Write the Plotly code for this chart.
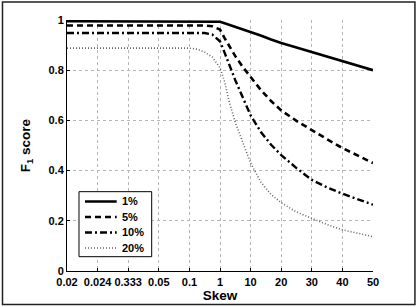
import plotly.graph_objects as go

# category tick labels along the x axis (evenly spaced)
skew_labels = ["0.02", "0.024", "0.333", "0.05", "0.1", "1", "10", "20", "30", "40", "50"]
# sample positions along the categorical axis (category index units)
pos = [0, 1, 2, 3, 4, 4.25, 4.5, 4.75, 5, 5.15, 5.3, 5.5, 5.75, 6, 6.33, 6.67, 7, 7.5, 8, 8.5, 9, 9.5, 10]

f1_1pct = [0.995, 0.995, 0.995, 0.995, 0.995, 0.995, 0.995, 0.995, 0.993, 0.987, 0.981, 0.974, 0.964,
           0.953, 0.938, 0.922, 0.908, 0.89, 0.872, 0.855, 0.837, 0.819, 0.80]
f1_5pct = [0.978, 0.978, 0.978, 0.978, 0.978, 0.978, 0.978, 0.975, 0.962, 0.928, 0.898, 0.856, 0.812,
           0.775, 0.722, 0.677, 0.64, 0.598, 0.56, 0.525, 0.49, 0.46, 0.43]
f1_10pct = [0.948, 0.948, 0.948, 0.948, 0.948, 0.948, 0.948, 0.942, 0.915, 0.87, 0.82, 0.76, 0.69,
            0.62, 0.555, 0.503, 0.462, 0.41, 0.363, 0.333, 0.308, 0.285, 0.264]
f1_20pct = [0.888, 0.888, 0.888, 0.888, 0.888, 0.884, 0.872, 0.852, 0.81, 0.755, 0.675, 0.592, 0.508,
            0.43, 0.355, 0.305, 0.272, 0.235, 0.21, 0.185, 0.164, 0.15, 0.137]

y_ticks = [0, 0.2, 0.4, 0.6, 0.8, 1]
y_ticktext = ["0", "0.2", "0.4", "0.6", "0.8", "1"]

series_names = ["1%", "5%", "10%", "20%"]
series_vals = [f1_1pct, f1_5pct, f1_10pct, f1_20pct]
styles = [
    dict(color="black", width=2.6, dash="solid"),
    dict(color="black", width=2.6, dash="6px,4px"),
    dict(color="black", width=2.4, dash="7px,3px,2px,3px"),
    dict(color="#666666", width=1.6, dash="1px,2px"),
]

FAM = "Liberation Sans"
font = dict(family=FAM, color="black")

fig = go.Figure()
for name, vals, line in zip(series_names, series_vals, styles):
    fig.add_trace(go.Scatter(x=pos, y=vals, mode="lines", name=name, line=line, showlegend=False,
                             hoverinfo="skip"))

# figure frame and hand-drawn legend box (paper coordinates)
shapes = [dict(type="rect", xref="paper", yref="paper",
               x0=-0.2108, x1=1.137, y0=-0.1335, y1=1.0717,
               line=dict(color="#222222", width=1.5), fillcolor="rgba(0,0,0,0)", layer="below"),
          dict(type="rect", xref="paper", yref="paper",
               x0=0.0392, x1=0.2768, y0=0.057, y1=0.316,
               line=dict(color="black", width=1), fillcolor="white", layer="above")]
annotations = []
row_y = [0.2769, 0.2151, 0.1534, 0.0916]
for name, line, yy in zip(series_names, styles, row_y):
    shapes.append(dict(type="line", xref="paper", yref="paper", x0=0.0588, x1=0.1624, y0=yy, y1=yy,
                       line=line, layer="above"))
    annotations.append(dict(text=name, xref="paper", yref="paper", x=0.1732, y=yy,
                            xanchor="left", yanchor="middle", showarrow=False,
                            font=dict(**font, size=11, weight="bold")))

fig.update_layout(
    width=417, height=307,
    margin=dict(l=67, r=44, t=20, b=36, autoexpand=False),
    paper_bgcolor="white", plot_bgcolor="white",
    font=dict(**font, size=11),
    showlegend=False,
    xaxis=dict(
        automargin=False,
        range=[0, 10], tickmode="array", tickvals=list(range(len(skew_labels))), ticktext=skew_labels,
        showline=True, linecolor="black", linewidth=1,
        ticks="inside", ticklen=3, tickcolor="black",
        showgrid=True, gridcolor="#b5b5b5", griddash="dot", gridwidth=1,
        zeroline=False, ticklabelstandoff=1,
        tickfont=dict(**font, size=11, weight="bold"),
        title=dict(text="Skew", font=dict(**font, size=13.5, weight="bold"), standoff=2),
    ),
    yaxis=dict(
        automargin=False,
        range=[0, 1], tickmode="array", tickvals=y_ticks, ticktext=y_ticktext,
        showline=True, linecolor="black", linewidth=1,
        ticks="inside", ticklen=3, tickcolor="black",
        showgrid=True, gridcolor="#b5b5b5", griddash="dot", gridwidth=1,
        zeroline=False,
        tickfont=dict(**font, size=11, weight="bold"),
        title=dict(text="F<sub>1</sub> score", font=dict(**font, size=13.5, weight="bold"), standoff=14),
    ),
    shapes=shapes,
    annotations=annotations,
)

fig.write_html("out.html", config={"displayModeBar": False},
               post_script="document.body.style.margin='0';document.body.style.padding='0';"
                           "document.body.style.overflow='hidden';")
